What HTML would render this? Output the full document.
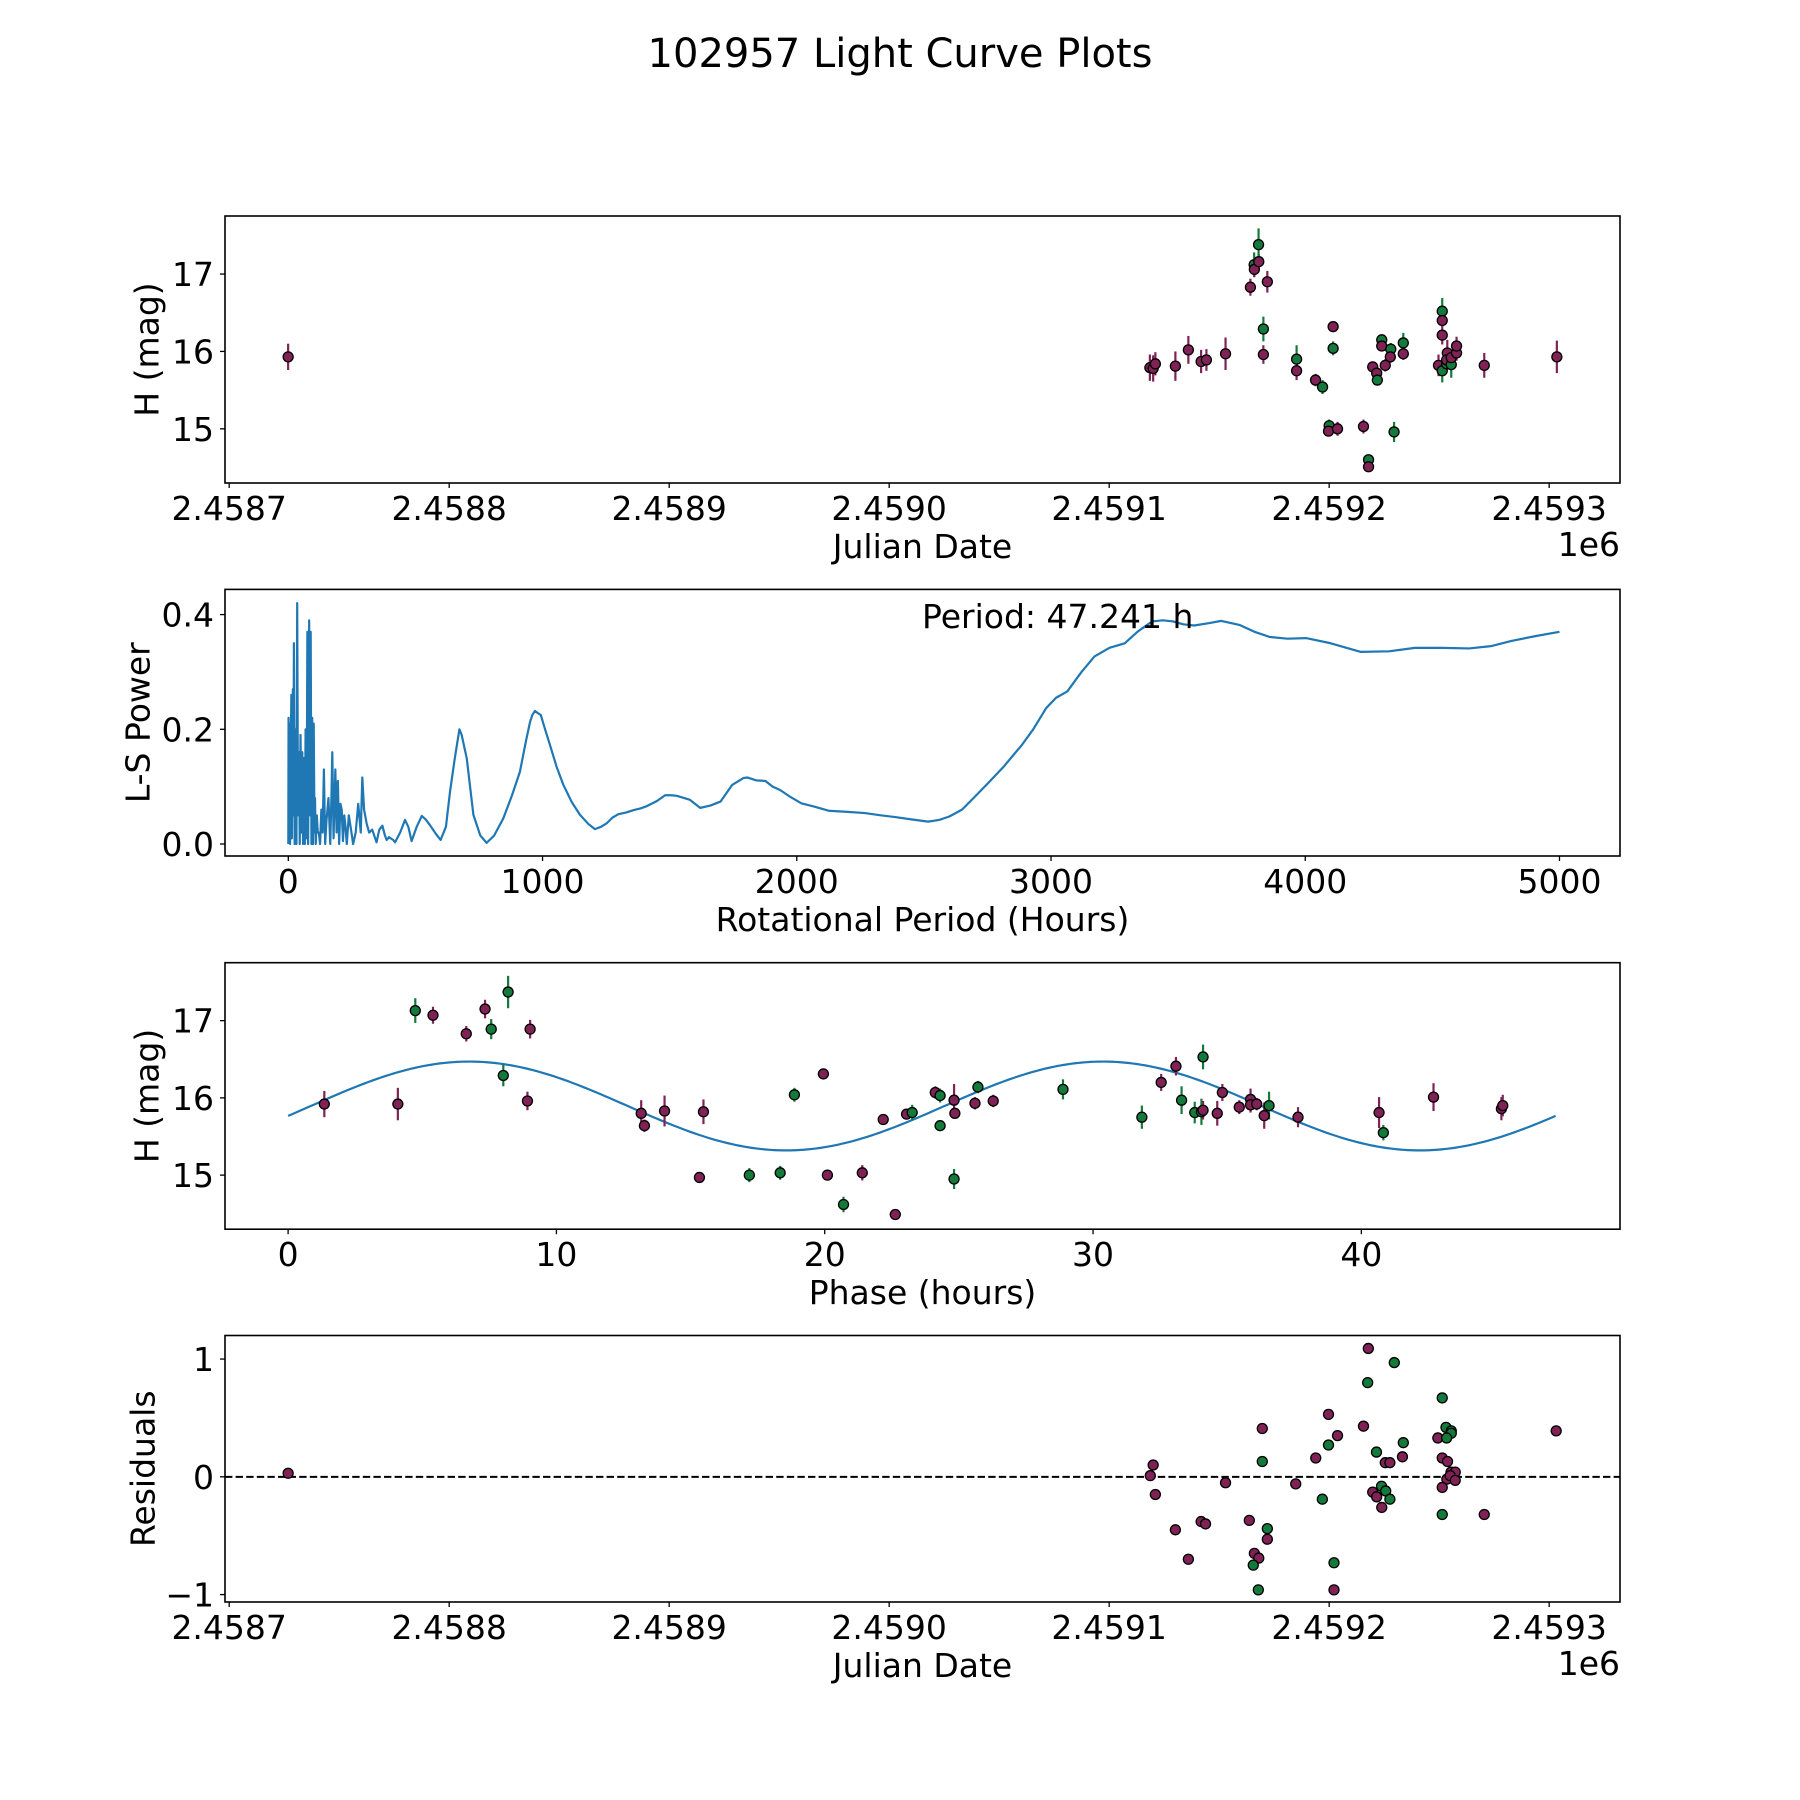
<!DOCTYPE html>
<html><head><meta charset="utf-8"><title>102957 Light Curve Plots</title>
<style>
html,body{margin:0;padding:0;background:#fff;}
svg{display:block;font-family:"DejaVu Sans","Liberation Sans",sans-serif;}
</style></head>
<body>
<svg id="fig" width="1800" height="1800" viewBox="0 0 1800 1800" xmlns="http://www.w3.org/2000/svg">
<rect width="1800" height="1800" fill="#fff"/>
<text x="900" y="67" font-size="40" text-anchor="middle">102957 Light Curve Plots</text>
</svg>
<script>
// ---------- data ----------
const lcDays = [-273.2,118.5,120.0,121.0,130.1,136.0,141.8,144.2,152.9,164.2,165.9,166.0,168.0,167.9,171.9,170.1,170.1,185.2,185.2,193.8,197.0,200.0,199.7,203.8,201.8,201.8,215.6,217.9,217.9,219.8,221.6,221.9,223.9,223.9,228.0,227.8,225.5,229.5,233.7,233.7,251.4,251.4,251.4,249.7,251.4,253.4,253.7,253.4,255.5,255.5,257.9,257.9,270.5,303.5];
const lcMag = [15.93,15.79,15.78,15.84,15.81,16.02,15.87,15.89,15.97,16.83,17.12,17.06,17.16,17.38,16.90,16.29,15.96,15.90,15.75,15.63,15.54,15.04,14.97,15.00,16.32,16.04,15.03,14.60,14.51,15.80,15.72,15.63,16.15,16.07,16.03,15.93,15.82,14.96,16.11,15.97,16.52,16.40,16.21,15.82,15.75,15.84,15.98,15.89,15.83,15.92,15.98,16.07,15.82,15.93];
const lcErr = [0.17,0.17,0.17,0.15,0.19,0.18,0.15,0.14,0.21,0.11,0.16,0.10,0.10,0.21,0.14,0.16,0.12,0.18,0.12,0.08,0.09,0.08,0.06,0.09,0.06,0.09,0.09,0.06,0.05,0.06,0.06,0.06,0.06,0.06,0.08,0.08,0.08,0.13,0.13,0.08,0.17,0.08,0.12,0.14,0.15,0.09,0.17,0.12,0.17,0.10,0.10,0.12,0.16,0.21];
const lcCol = ['m','m','m','m','m','m','m','m','m','m','g','m','m','g','m','g','m','g','m','m','g','g','m','m','m','g','m','g','m','m','m','g','g','m','g','m','m','g','g','m','g','m','m','m','g','g','m','m','g','m','m','m','m','m'];

const lsPeriod = [0,1,3,5,7,10,12,14,18,20,22,25,28,30,32,35,38,42,45,48,52,55,58,62,65,68,72,75,78,82,85,88,91,94,97,100,103,105,108,112,116,120,125,130,135,140,145,150,158,165,170,173,178,185,190,195,200,205,210,215,220,225,230,238,245,255,265,275,285,291,298,308,318,330,347,358,370,380,387,396,406,413,420,440,459,472,485,505,525,540,557,580,599,620,636,655,673,682,702,715,728,755,780,810,846,880,911,935,951,960,970,982,993,1010,1029,1055,1082,1115,1147,1180,1206,1230,1252,1275,1298,1330,1357,1385,1410,1450,1482,1505,1528,1580,1620,1660,1700,1746,1790,1805,1840,1876,1905,1935,1975,2018,2070,2125,2200,2268,2330,2387,2450,2517,2560,2600,2650,2695,2750,2814,2886,2930,2981,3020,3064,3120,3171,3230,3290,3340,3397,3440,3480,3520,3563,3620,3670,3741,3800,3860,3930,4003,4100,4217,4330,4431,4540,4645,4730,4811,4900,5000];
const lsPower = [0,0.22,0.02,0.21,0.0,0.18,0.26,0.01,0.27,0.05,0.35,0.0,0.2,0.17,0.0,0.42,0.05,0.16,0.0,0.19,0.02,0.16,0.0,0.15,0.0,0.2,0.01,0.37,0.0,0.39,0.05,0.37,0.0,0.22,0.0,0.21,0.02,0.08,0.0,0.05,0.02,0.02,0.0,0.06,0.02,0.13,0.0,0.04,0.08,0.0,0.09,0.16,0.01,0.13,0.02,0.11,0.0,0.07,0.06,0.005,0.05,0.03,0.0,0.05,0.03,0.0,0.02,0.07,0.02,0.116,0.06,0.036,0.02,0.025,0.003,0.025,0.032,0.015,0.007,0.012,0.009,0.007,0.003,0.02,0.042,0.03,0.005,0.03,0.049,0.043,0.033,0.018,0.007,0.03,0.091,0.15,0.2,0.19,0.149,0.1,0.051,0.015,0.002,0.015,0.045,0.085,0.126,0.18,0.213,0.225,0.232,0.228,0.225,0.2,0.173,0.135,0.103,0.073,0.051,0.035,0.026,0.03,0.036,0.046,0.052,0.055,0.059,0.062,0.066,0.075,0.085,0.085,0.084,0.077,0.063,0.067,0.074,0.103,0.115,0.116,0.111,0.11,0.1,0.094,0.082,0.071,0.065,0.058,0.056,0.054,0.05,0.047,0.043,0.039,0.042,0.048,0.06,0.08,0.105,0.135,0.173,0.2,0.237,0.255,0.266,0.3,0.327,0.342,0.35,0.37,0.388,0.39,0.388,0.383,0.381,0.385,0.389,0.382,0.37,0.361,0.358,0.359,0.35,0.335,0.336,0.342,0.342,0.341,0.345,0.354,0.362,0.370];

const phHours = [1.35,4.09,4.74,5.40,6.64,7.34,7.57,8.20,8.02,9.02,8.92,13.16,13.28,14.03,15.48,15.33,17.19,18.34,18.87,19.95,20.10,21.40,20.70,22.63,22.18,23.05,23.26,24.12,24.30,24.30,24.82,24.85,24.82,25.60,25.71,26.28,28.88,31.82,32.54,33.09,33.30,33.79,34.04,34.10,34.10,34.63,34.82,35.45,35.87,35.87,36.10,36.38,36.56,37.64,40.66,40.82,42.69,45.22,45.27];
const phMag = [15.92,15.92,17.13,17.07,16.83,17.15,16.89,17.37,16.29,16.89,15.96,15.80,15.64,15.83,15.82,14.97,15.00,15.03,16.04,16.31,15.00,15.03,14.62,14.49,15.72,15.79,15.81,16.07,16.03,15.64,15.97,15.80,14.95,15.93,16.14,15.96,16.11,15.75,16.20,16.41,15.97,15.81,15.82,15.84,16.53,15.80,16.07,15.88,15.98,15.91,15.92,15.77,15.90,15.75,15.81,15.55,16.01,15.86,15.90];
const phErr = [0.17,0.21,0.16,0.11,0.10,0.12,0.13,0.21,0.14,0.12,0.12,0.17,0.08,0.20,0.16,0.06,0.09,0.09,0.09,0.06,0.05,0.10,0.10,0.05,0.06,0.06,0.10,0.08,0.09,0.06,0.21,0.06,0.13,0.08,0.08,0.08,0.13,0.15,0.11,0.12,0.18,0.14,0.17,0.12,0.16,0.16,0.11,0.09,0.14,0.10,0.08,0.17,0.18,0.13,0.20,0.10,0.18,0.15,0.14];
const phCol = ['m','m','g','m','m','m','g','g','g','m','m','m','m','m','m','m','g','g','g','m','m','m','g','m','m','m','g','m','g','g','m','m','g','m','g','m','g','g','m','m','g','g','g','m','g','m','m','m','m','m','m','m','g','m','m','g','m','m','m'];
const modelMean = 15.895, modelAmp = 0.575, modelPeriod = 23.6205, modelPhase = -0.225, foldLength = 47.241;

const resDays = [-273.2,120.0,118.7,121.0,130.1,136.0,141.8,143.8,152.9,163.7,166.0,168.0,165.5,167.8,169.6,169.6,171.9,171.9,184.8,193.9,196.9,199.7,199.7,203.8,202.2,202.2,215.6,217.8,217.5,219.8,221.6,223.9,223.8,225.7,227.6,221.5,225.5,227.6,229.6,233.7,233.3,251.4,253.1,255.5,255.5,249.4,253.4,251.4,253.8,255.4,257.3,253.5,255.0,257.3,251.4,251.4,270.5,303.2];
const resVal = [0.03,0.10,0.01,-0.15,-0.45,-0.70,-0.38,-0.40,-0.05,-0.37,-0.65,-0.69,-0.75,-0.96,0.41,0.13,-0.44,-0.53,-0.06,0.16,-0.19,0.53,0.27,0.35,-0.73,-0.96,0.43,1.09,0.80,-0.13,-0.17,-0.26,-0.08,-0.12,-0.19,0.21,0.12,0.12,0.97,0.29,0.17,0.67,0.42,0.39,0.37,0.33,0.33,0.16,0.13,0.04,0.04,-0.02,0.01,-0.03,-0.09,-0.32,-0.32,0.39];
const resCol = ['m','m','m','m','m','m','m','m','m','m','m','m','g','g','m','g','g','m','m','m','g','m','g','m','g','m','m','m','g','m','m','m','g','g','g','g','m','m','g','g','m','g','g','g','g','m','g','m','m','m','m','m','m','m','m','g','m','m'];

const jdTicks = [-300,-200,-100,0,100,200,300];
const jdTickLabels = ['2.4587','2.4588','2.4589','2.4590','2.4591','2.4592','2.4593'];
const magTicks = [15,16,17];
const lsXTicks = [0,1000,2000,3000,4000,5000];
const lsYTicks = [0,0.2,0.4];
const lsYTickLabels = ['0.0','0.2','0.4'];
const phTicks = [0,10,20,30,40];
const resTicks = [-1,0,1];
const resTickLabels = ['\u22121','0','1'];

// ---------- drawing ----------
const NS = 'http://www.w3.org/2000/svg';
const svg = document.getElementById('fig');
const COL = {m:'#812257', g:'#137a3b'};
const FS = 33;
function el(tag, attrs, parent){
  const e = document.createElementNS(NS, tag);
  for (const k in attrs) e.setAttribute(k, attrs[k]);
  (parent||svg).appendChild(e);
  return e;
}
function axes(name, box, xlim, ylim){
  const g = el('g', {});
  
  
  const sx = v => box.x0 + (v - xlim[0]) / (xlim[1] - xlim[0]) * (box.x1 - box.x0);
  const sy = v => box.y1 - (v - ylim[0]) / (ylim[1] - ylim[0]) * (box.y1 - box.y0);
  const plot = el('g', {}, g);
  
  
  const cp = el('clipPath', {id: name + '-clip'}, g);
  el('rect', {x: box.x0, y: box.y0, width: box.x1 - box.x0, height: box.y1 - box.y0}, cp);
  plot.setAttribute('clip-path', 'url(#' + name + '-clip)');
  return {g, plot, sx, sy, box};
}
function frame(ax){
  const b = ax.box;
  const r = el('rect', {x: b.x0, y: b.y0, width: b.x1 - b.x0, height: b.y1 - b.y0, fill: 'none', stroke: '#000', 'stroke-width': 1.6}, ax.g);
  
  
}
function xticks(ax, vals, labels){
  vals.forEach((v, i) => {
    const x = ax.sx(v);
    el('line', {x1: x, x2: x, y1: ax.box.y1, y2: ax.box.y1 + 5, stroke: '#000', 'stroke-width': 1.3}, ax.g);
    const t = el('text', {x: x, y: ax.box.y1 + 37, 'font-size': FS, 'text-anchor': 'middle'}, ax.g);
    t.textContent = labels ? labels[i] : String(v);
    
    
  });
}
function yticks(ax, vals, labels){
  vals.forEach((v, i) => {
    const y = ax.sy(v);
    el('line', {x1: ax.box.x0 - 5, x2: ax.box.x0, y1: y, y2: y, stroke: '#000', 'stroke-width': 1.3}, ax.g);
    const t = el('text', {x: ax.box.x0 - 11, y: y + 12, 'font-size': FS, 'text-anchor': 'end'}, ax.g);
    t.textContent = labels ? labels[i] : String(v);
    
    
  });
}
function xlabel(ax, txt, name){
  const t = el('text', {x: (ax.box.x0 + ax.box.x1) / 2, y: ax.box.y1 + 75, 'font-size': FS, 'text-anchor': 'middle'}, ax.g);
  t.textContent = txt;
  
  
}
function ylabel(ax, txt, name, cx){
  const cy = (ax.box.y0 + ax.box.y1) / 2;
  const t = el('text', {x: cx, y: cy, 'font-size': FS, 'text-anchor': 'middle', 'dominant-baseline': 'central', transform: 'rotate(-90 ' + cx + ' ' + cy + ')'}, ax.g);
  t.textContent = txt;
  
  
}
function offsetText(ax, name){
  const t = el('text', {x: ax.box.x1, y: ax.box.y1 + 73, 'font-size': FS, 'text-anchor': 'end'}, ax.g);
  t.textContent = '1e6';
  
  
}
function points(ax, xs, ys, errs, cols, name){
  xs.forEach((xv, i) => {
    const x = ax.sx(xv);
    if (errs) {
      const eb = el('line', {x1: x, x2: x, y1: ax.sy(ys[i] + errs[i]), y2: ax.sy(ys[i] - errs[i]), stroke: COL[cols[i]], 'stroke-width': 2.2}, ax.plot);
      
      
    }
  });
  xs.forEach((xv, i) => {
    const c = el('circle', {cx: ax.sx(xv), cy: ax.sy(ys[i]), r: 5, fill: COL[cols[i]], stroke: '#000', 'stroke-width': 1.3}, ax.plot);
    
    
  });
}

// Panel 1
const a1 = axes('light-curve-panel', {x0: 225, x1: 1620, y0: 216, y1: 483}, [-301.9, 332.2], [14.30, 17.75]);
points(a1, lcDays, lcMag, lcErr, lcCol, 'light-curve');
frame(a1); xticks(a1, jdTicks, jdTickLabels); yticks(a1, magTicks);
xlabel(a1, 'Julian Date', 'x-axis-title-julian-date'); ylabel(a1, 'H (mag)', 'y-axis-title-magnitude', 147); offsetText(a1, 'x-offset-1e6');

// Panel 2
const a2 = axes('periodogram-panel', {x0: 225, x1: 1620, y0: 589.4, y1: 856}, [-249, 5238], [-0.0209, 0.4439]);
let d2 = '';
lsPeriod.forEach((p, i) => { d2 += (i ? 'L' : 'M') + a2.sx(p).toFixed(2) + ',' + a2.sy(lsPower[i]).toFixed(2); });
const ln2 = el('path', {d: d2, fill: 'none', stroke: '#1f77b4', 'stroke-width': 2.2, 'stroke-linejoin': 'round'}, a2.plot);


frame(a2); xticks(a2, lsXTicks); yticks(a2, lsYTicks, lsYTickLabels);
xlabel(a2, 'Rotational Period (Hours)', 'x-axis-title-period'); ylabel(a2, 'L-S Power', 'y-axis-title-power', 138);
const pt = el('text', {x: 922, y: 628, 'font-size': FS}, a2.g);
pt.textContent = 'Period: 47.241 h';



// Panel 3
const a3 = axes('phase-fold-panel', {x0: 225, x1: 1620, y0: 962.7, y1: 1229.2}, [-2.352, 49.64], [14.30, 17.75]);
let d3 = '';
for (let k = 0; k <= 300; k++) {
  const t = foldLength * k / 300;
  const m = modelMean + modelAmp * Math.sin(2 * Math.PI * t / modelPeriod + modelPhase);
  d3 += (k ? 'L' : 'M') + a3.sx(t).toFixed(2) + ',' + a3.sy(m).toFixed(2);
}
const ln3 = el('path', {d: d3, fill: 'none', stroke: '#1f77b4', 'stroke-width': 2.2}, a3.plot);


points(a3, phHours, phMag, phErr, phCol, 'phase');
frame(a3); xticks(a3, phTicks); yticks(a3, magTicks);
xlabel(a3, 'Phase (hours)', 'x-axis-title-phase'); ylabel(a3, 'H (mag)', 'y-axis-title-magnitude-phase', 147);

// Panel 4
const a4 = axes('residuals-panel', {x0: 225, x1: 1620, y0: 1335.5, y1: 1602}, [-301.9, 332.2], [-1.063, 1.2]);
const zl = el('line', {x1: a4.box.x0, x2: a4.box.x1, y1: a4.sy(0), y2: a4.sy(0), stroke: '#000', 'stroke-width': 2, 'stroke-dasharray': '7.4,3.2'}, a4.plot);


points(a4, resDays, resVal, null, resCol, 'residual');
frame(a4); xticks(a4, jdTicks, jdTickLabels); yticks(a4, resTicks, resTickLabels);
xlabel(a4, 'Julian Date', 'x-axis-title-julian-date-residuals'); ylabel(a4, 'Residuals', 'y-axis-title-residuals', 143); offsetText(a4, 'x-offset-1e6-residuals');
</script>
</body></html>
